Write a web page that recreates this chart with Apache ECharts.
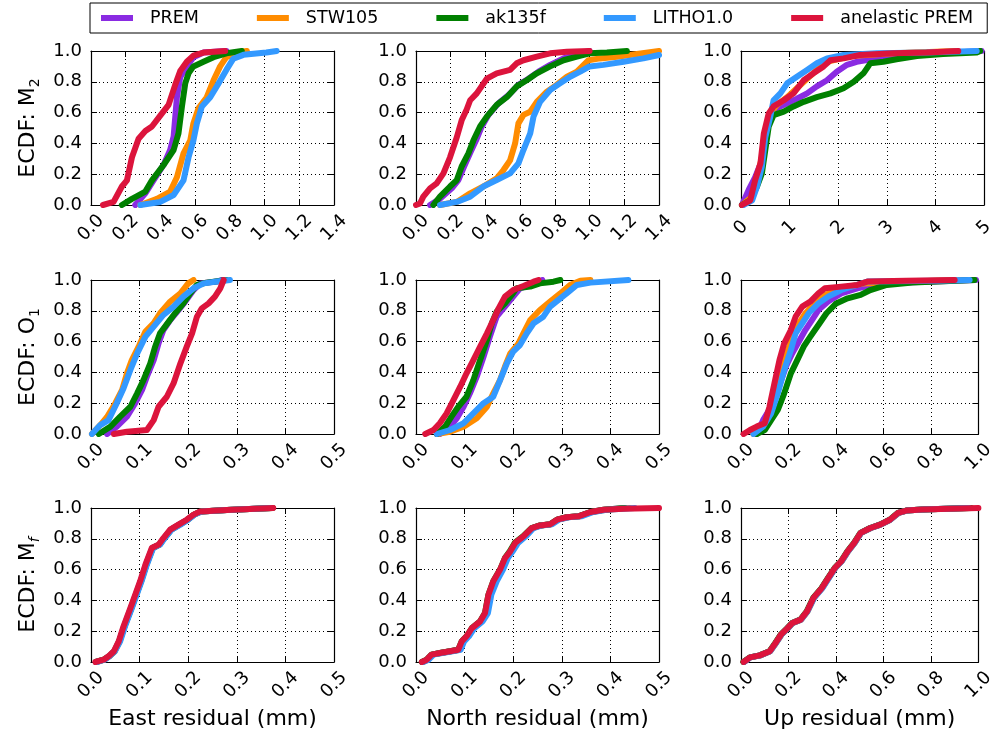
<!DOCTYPE html>
<html><head><meta charset="utf-8">
<script src="https://cdn.jsdelivr.net/npm/echarts/dist/echarts.min.js"></script>
<style>html,body{margin:0;padding:0;background:#fff}#c{width:997px;height:742px}</style>
</head><body><div id="c"></div>
<script>
const seriesNames = ['PREM', 'STW105', 'ak135f', 'LITHO1.0', 'anelastic PREM'];
const seriesColors = ['#8A2BE2', '#FF8C00', '#008000', '#3399FF', '#DC143C'];
const rowTides = [['M', '2', false], ['O', '1', false], ['M', 'f', true]];
const colTitles = ['East residual (mm)', 'North residual (mm)', 'Up residual (mm)'];

const xTicksM2EN = [0, 0.2, 0.4, 0.6, 0.8, 1.0, 1.2, 1.4];
const xLabelsM2EN = ['0.0', '0.2', '0.4', '0.6', '0.8', '1.0', '1.2', '1.4'];
const xTicksM2U = [0, 1, 2, 3, 4, 5];
const xLabelsM2U = ['0', '1', '2', '3', '4', '5'];
const xTicksHalf = [0, 0.1, 0.2, 0.3, 0.4, 0.5];
const xLabelsHalf = ['0.0', '0.1', '0.2', '0.3', '0.4', '0.5'];
const xTicksOne = [0, 0.2, 0.4, 0.6, 0.8, 1.0];
const xLabelsOne = ['0.0', '0.2', '0.4', '0.6', '0.8', '1.0'];
const yTicks = [0, 0.2, 0.4, 0.6, 0.8, 1.0];
const yLabels = ['0.0', '0.2', '0.4', '0.6', '0.8', '1.0'];

// ---- M2 East ----
const m2EastPREM = [[0.255,0],[0.313,0.076],[0.36,0.16],[0.418,0.26],[0.456,0.357],[0.476,0.444],[0.495,0.70],[0.514,0.83],[0.552,0.90],[0.59,0.96],[0.648,0.99],[0.78,1.0]];
const m2EastSTW = [[0.284,0],[0.38,0.04],[0.456,0.087],[0.495,0.18],[0.533,0.335],[0.572,0.42],[0.59,0.53],[0.62,0.63],[0.667,0.70],[0.706,0.81],[0.744,0.90],[0.78,0.96],[0.84,0.99],[0.898,1.0]];
const m2EastAK = [[0.178,0],[0.236,0.04],[0.313,0.087],[0.351,0.16],[0.418,0.26],[0.476,0.357],[0.504,0.465],[0.524,0.64],[0.543,0.79],[0.562,0.855],[0.59,0.9],[0.648,0.93],[0.706,0.96],[0.78,0.985],[0.869,1.0]];
const m2EastLITHO = [[0.284,0],[0.399,0.02],[0.476,0.065],[0.533,0.16],[0.562,0.31],[0.59,0.42],[0.61,0.53],[0.639,0.64],[0.687,0.70],[0.735,0.79],[0.78,0.877],[0.82,0.95],[0.878,0.975],[1.01,0.99],[1.07,1.0]];
const m2EastAnel = [[0.069,0],[0.13,0.02],[0.178,0.12],[0.207,0.16],[0.236,0.31],[0.274,0.43],[0.313,0.48],[0.351,0.51],[0.399,0.58],[0.447,0.65],[0.485,0.78],[0.514,0.87],[0.552,0.93],[0.59,0.97],[0.648,0.99],[0.773,1.0]];

// ---- M2 North ----
const m2NorthPREM = [[0.081,0],[0.138,0.04],[0.206,0.108],[0.244,0.162],[0.277,0.25],[0.315,0.346],[0.346,0.42],[0.379,0.51],[0.417,0.584],[0.475,0.66],[0.533,0.714],[0.59,0.78],[0.648,0.82],[0.706,0.866],[0.773,0.91],[0.85,0.952],[0.927,0.98],[1.0,1.0]];
const m2NorthSTW = [[0.138,0],[0.235,0.02],[0.312,0.076],[0.388,0.12],[0.465,0.173],[0.504,0.227],[0.542,0.29],[0.571,0.4],[0.59,0.53],[0.619,0.585],[0.658,0.606],[0.696,0.67],[0.754,0.736],[0.81,0.78],[0.87,0.833],[0.927,0.866],[0.994,0.94],[1.06,0.952],[1.158,0.963],[1.273,0.98],[1.4,1.0]];
const m2NorthAK = [[0.1,0],[0.138,0.054],[0.196,0.12],[0.235,0.162],[0.263,0.25],[0.302,0.335],[0.331,0.42],[0.369,0.51],[0.408,0.574],[0.465,0.65],[0.523,0.70],[0.58,0.77],[0.638,0.81],[0.696,0.855],[0.773,0.9],[0.85,0.94],[0.927,0.963],[1.0,0.985],[1.1,0.99],[1.215,1.0]];
const m2NorthLITHO = [[0.138,0],[0.235,0.02],[0.312,0.054],[0.388,0.12],[0.465,0.162],[0.542,0.205],[0.59,0.27],[0.619,0.357],[0.658,0.465],[0.677,0.574],[0.715,0.67],[0.773,0.747],[0.83,0.79],[0.888,0.833],[0.946,0.866],[1.0,0.9],[1.08,0.91],[1.196,0.93],[1.31,0.952],[1.4,0.974]];
const m2NorthAnel = [[0,0],[0.023,0.01],[0.042,0.054],[0.081,0.108],[0.119,0.14],[0.158,0.205],[0.196,0.31],[0.235,0.44],[0.263,0.55],[0.292,0.62],[0.312,0.68],[0.35,0.725],[0.408,0.82],[0.465,0.855],[0.542,0.877],[0.58,0.92],[0.619,0.94],[0.696,0.963],[0.773,0.985],[0.869,0.995],[1.0,1.0]];

// ---- M2 Up ----
const m2UpPREM = [[0.02,0],[0.16,0.1],[0.29,0.18],[0.43,0.29],[0.5,0.465],[0.6,0.574],[0.74,0.63],[0.95,0.66],[1.15,0.69],[1.36,0.725],[1.56,0.77],[1.77,0.81],[1.97,0.866],[2.18,0.91],[2.38,0.93],[2.8,0.952],[3.48,0.974],[4.16,0.985],[4.95,1.0]];
const m2UpSTW = [[0.02,0],[0.23,0.054],[0.33,0.18],[0.43,0.31],[0.5,0.465],[0.6,0.595],[0.74,0.65],[0.95,0.70],[1.15,0.758],[1.36,0.82],[1.56,0.877],[1.77,0.93],[2.25,0.967],[3.14,0.985],[4.16,0.997],[4.4,1.0]];
const m2UpAK = [[0.02,0],[0.19,0.03],[0.33,0.12],[0.43,0.205],[0.5,0.357],[0.57,0.51],[0.67,0.584],[0.88,0.606],[1.08,0.64],[1.29,0.67],[1.56,0.70],[1.84,0.725],[2.11,0.758],[2.32,0.8],[2.52,0.855],[2.66,0.92],[2.93,0.93],[3.2,0.946],[3.62,0.967],[4.16,0.98],[4.85,0.99],[4.92,1.0]];
const m2UpLITHO = [[0.05,0],[0.23,0.03],[0.33,0.12],[0.43,0.25],[0.5,0.44],[0.6,0.57],[0.67,0.68],[0.81,0.725],[0.95,0.79],[1.15,0.833],[1.36,0.877],[1.56,0.92],[1.77,0.952],[2.11,0.974],[2.8,0.985],[3.82,0.99],[4.85,1.0]];
const m2UpAnel = [[0.02,0],[0.19,0.03],[0.29,0.16],[0.4,0.27],[0.47,0.465],[0.57,0.595],[0.67,0.64],[0.88,0.68],[1.08,0.725],[1.29,0.81],[1.49,0.855],[1.7,0.9],[1.84,0.94],[2.11,0.952],[2.45,0.974],[3.14,0.985],[3.82,0.99],[4.47,1.0]];

// ---- O1 East ----
const o1EastPREM = [[0.033,0],[0.053,0.048],[0.074,0.113],[0.091,0.2],[0.105,0.286],[0.115,0.372],[0.129,0.48],[0.139,0.589],[0.149,0.675],[0.163,0.74],[0.18,0.805],[0.194,0.86],[0.211,0.935],[0.225,0.978],[0.259,0.99],[0.27,1.0]];
const o1EastSTW = [[0.002,0],[0.019,0.058],[0.033,0.11],[0.05,0.2],[0.064,0.286],[0.074,0.394],[0.084,0.48],[0.098,0.567],[0.112,0.665],[0.129,0.72],[0.142,0.784],[0.163,0.86],[0.184,0.913],[0.2,0.978],[0.211,1.0]];
const o1EastAK = [[0.016,0],[0.04,0.048],[0.06,0.113],[0.081,0.177],[0.095,0.264],[0.108,0.35],[0.122,0.459],[0.132,0.567],[0.142,0.654],[0.16,0.73],[0.173,0.784],[0.19,0.848],[0.204,0.913],[0.218,0.968],[0.238,0.983],[0.279,1.0]];
const o1EastLITHO = [[0.002,0],[0.019,0.058],[0.036,0.09],[0.053,0.2],[0.067,0.297],[0.081,0.416],[0.095,0.524],[0.112,0.632],[0.129,0.697],[0.149,0.773],[0.17,0.827],[0.19,0.892],[0.211,0.946],[0.232,0.978],[0.259,0.99],[0.286,1.0]];
const o1EastAnel = [[0.047,0],[0.074,0.015],[0.115,0.026],[0.129,0.09],[0.139,0.177],[0.156,0.242],[0.17,0.33],[0.184,0.459],[0.197,0.567],[0.208,0.654],[0.218,0.762],[0.228,0.816],[0.242,0.848],[0.255,0.892],[0.266,0.946],[0.273,1.0]];

// ---- O1 North ----
const o1NorthPREM = [[0.049,0],[0.07,0.048],[0.084,0.102],[0.098,0.177],[0.111,0.264],[0.125,0.372],[0.139,0.502],[0.152,0.632],[0.166,0.762],[0.183,0.827],[0.2,0.892],[0.214,0.946],[0.235,0.968],[0.252,0.99],[0.26,1.0]];
const o1NorthSTW = [[0.043,0],[0.07,0.015],[0.098,0.048],[0.125,0.102],[0.146,0.177],[0.159,0.264],[0.173,0.35],[0.183,0.437],[0.194,0.524],[0.211,0.589],[0.221,0.654],[0.235,0.74],[0.255,0.805],[0.276,0.86],[0.297,0.913],[0.317,0.968],[0.338,0.995],[0.359,1.0]];
const o1NorthAK = [[0.043,0],[0.06,0.048],[0.073,0.113],[0.087,0.177],[0.104,0.242],[0.118,0.35],[0.132,0.48],[0.146,0.61],[0.156,0.719],[0.166,0.794],[0.183,0.848],[0.197,0.903],[0.207,0.946],[0.235,0.957],[0.255,0.978],[0.283,0.989],[0.297,1.0]];
const o1NorthLITHO = [[0.043,0],[0.07,0.026],[0.098,0.07],[0.118,0.134],[0.139,0.2],[0.159,0.242],[0.173,0.35],[0.187,0.459],[0.2,0.535],[0.214,0.578],[0.228,0.654],[0.242,0.719],[0.262,0.762],[0.276,0.827],[0.297,0.881],[0.31,0.913],[0.331,0.968],[0.359,0.983],[0.437,1.0]];
const o1NorthAnel = [[0.019,0],[0.036,0.026],[0.049,0.07],[0.063,0.134],[0.077,0.22],[0.091,0.307],[0.104,0.394],[0.118,0.48],[0.132,0.567],[0.146,0.654],[0.159,0.74],[0.17,0.816],[0.183,0.892],[0.2,0.935],[0.221,0.961],[0.242,0.989],[0.252,1.0]];

// ---- O1 Up ----
const o1UpPREM = [[0.066,0],[0.093,0.09],[0.127,0.177],[0.155,0.286],[0.189,0.437],[0.216,0.524],[0.244,0.6],[0.271,0.675],[0.299,0.74],[0.326,0.805],[0.367,0.86],[0.422,0.913],[0.49,0.946],[0.559,0.968],[0.696,0.983],[0.99,1.0]];
const o1UpSTW = [[0.052,0],[0.1,0.07],[0.134,0.2],[0.162,0.35],[0.189,0.502],[0.216,0.632],[0.244,0.719],[0.271,0.784],[0.312,0.848],[0.353,0.903],[0.422,0.946],[0.518,0.978],[0.696,0.989],[0.9,1.0]];
const o1UpAK = [[0.066,0],[0.1,0.026],[0.127,0.09],[0.155,0.156],[0.182,0.264],[0.21,0.394],[0.237,0.48],[0.264,0.567],[0.292,0.632],[0.326,0.708],[0.36,0.784],[0.401,0.848],[0.449,0.881],[0.504,0.903],[0.545,0.935],[0.614,0.968],[0.723,0.983],[0.984,1.0]];
const o1UpLITHO = [[0.052,0],[0.093,0.048],[0.127,0.134],[0.155,0.264],[0.182,0.416],[0.21,0.545],[0.23,0.654],[0.258,0.719],[0.285,0.784],[0.326,0.848],[0.367,0.892],[0.422,0.935],[0.49,0.968],[0.532,0.99],[0.833,0.995],[0.963,1.0]];
const o1UpAnel = [[0.011,0],[0.038,0.026],[0.066,0.048],[0.1,0.07],[0.12,0.177],[0.141,0.33],[0.162,0.48],[0.182,0.589],[0.21,0.675],[0.23,0.762],[0.258,0.827],[0.292,0.86],[0.326,0.913],[0.353,0.946],[0.422,0.957],[0.49,0.968],[0.532,0.99],[0.696,0.995],[0.9,1.0]];

// ---- Mf East ----
const mfEastPREM = [[0.01,0],[0.027,0.015],[0.037,0.037],[0.048,0.07],[0.058,0.134],[0.068,0.232],[0.082,0.35],[0.092,0.437],[0.102,0.524],[0.113,0.632],[0.126,0.74],[0.14,0.762],[0.15,0.805],[0.164,0.86],[0.181,0.892],[0.198,0.924],[0.212,0.957],[0.226,0.978],[0.28,0.987],[0.37,1.0]];
const mfEastSTW = [[0.011,0],[0.027,0.015],[0.038,0.037],[0.049,0.07],[0.059,0.134],[0.069,0.232],[0.083,0.35],[0.093,0.437],[0.103,0.524],[0.114,0.632],[0.127,0.74],[0.141,0.762],[0.151,0.805],[0.165,0.86],[0.182,0.892],[0.199,0.924],[0.212,0.957],[0.227,0.978],[0.28,0.987],[0.372,1.0]];
const mfEastAK = [[0.01,0],[0.026,0.015],[0.037,0.037],[0.048,0.07],[0.058,0.134],[0.069,0.232],[0.083,0.35],[0.093,0.437],[0.103,0.524],[0.114,0.632],[0.127,0.74],[0.141,0.762],[0.151,0.805],[0.165,0.86],[0.182,0.892],[0.199,0.924],[0.212,0.957],[0.226,0.978],[0.279,0.987],[0.374,1.0]];
const mfEastLITHO = [[0.012,0],[0.028,0.015],[0.038,0.037],[0.049,0.07],[0.06,0.134],[0.07,0.232],[0.084,0.35],[0.094,0.437],[0.104,0.524],[0.115,0.632],[0.128,0.74],[0.142,0.762],[0.152,0.805],[0.166,0.86],[0.184,0.892],[0.2,0.924],[0.213,0.957],[0.228,0.978],[0.28,0.987],[0.37,1.0]];
const mfEastAnel = [[0.009,0],[0.026,0.015],[0.036,0.037],[0.047,0.07],[0.057,0.134],[0.067,0.232],[0.081,0.35],[0.091,0.437],[0.101,0.524],[0.112,0.632],[0.125,0.74],[0.139,0.762],[0.149,0.805],[0.163,0.86],[0.18,0.892],[0.197,0.924],[0.211,0.957],[0.225,0.978],[0.279,0.987],[0.375,1.0]];

// ---- Mf North ----
const mfNorthPREM = [[0.013,0],[0.023,0.015],[0.033,0.048],[0.05,0.058],[0.071,0.07],[0.088,0.08],[0.095,0.134],[0.105,0.167],[0.116,0.22],[0.133,0.264],[0.143,0.318],[0.15,0.437],[0.161,0.524],[0.175,0.6],[0.185,0.675],[0.195,0.719],[0.205,0.773],[0.222,0.816],[0.239,0.87],[0.256,0.887],[0.277,0.894],[0.291,0.924],[0.311,0.94],[0.335,0.946],[0.36,0.974],[0.387,0.989],[0.43,1.0]];
const mfNorthSTW = [[0.014,0],[0.024,0.015],[0.034,0.048],[0.051,0.058],[0.072,0.07],[0.09,0.08],[0.097,0.134],[0.107,0.167],[0.118,0.22],[0.135,0.264],[0.145,0.318],[0.152,0.437],[0.163,0.524],[0.177,0.6],[0.187,0.675],[0.197,0.719],[0.207,0.773],[0.224,0.816],[0.24,0.87],[0.257,0.887],[0.278,0.894],[0.292,0.924],[0.312,0.94],[0.337,0.946],[0.362,0.974],[0.39,0.989],[0.44,1.0]];
const mfNorthAK = [[0.012,0],[0.022,0.015],[0.032,0.048],[0.049,0.058],[0.07,0.07],[0.087,0.08],[0.094,0.134],[0.104,0.167],[0.115,0.22],[0.132,0.264],[0.142,0.318],[0.149,0.437],[0.159,0.524],[0.173,0.6],[0.183,0.675],[0.193,0.719],[0.203,0.773],[0.22,0.816],[0.238,0.87],[0.255,0.887],[0.276,0.894],[0.29,0.924],[0.31,0.94],[0.334,0.946],[0.359,0.974],[0.386,0.989],[0.43,1.0]];
const mfNorthLITHO = [[0.015,0],[0.026,0.015],[0.036,0.048],[0.054,0.058],[0.075,0.07],[0.092,0.08],[0.099,0.134],[0.109,0.167],[0.12,0.22],[0.137,0.264],[0.148,0.318],[0.155,0.437],[0.166,0.524],[0.179,0.6],[0.189,0.675],[0.199,0.719],[0.21,0.773],[0.226,0.816],[0.242,0.87],[0.259,0.887],[0.28,0.894],[0.294,0.924],[0.314,0.94],[0.34,0.946],[0.365,0.974],[0.392,0.989],[0.45,1.0]];
const mfNorthAnel = [[0.012,0],[0.022,0.015],[0.032,0.048],[0.049,0.058],[0.07,0.07],[0.087,0.08],[0.094,0.134],[0.104,0.167],[0.115,0.22],[0.132,0.264],[0.142,0.318],[0.149,0.437],[0.159,0.524],[0.173,0.6],[0.183,0.675],[0.194,0.719],[0.204,0.773],[0.221,0.816],[0.238,0.87],[0.255,0.887],[0.276,0.894],[0.29,0.924],[0.31,0.94],[0.334,0.946],[0.359,0.974],[0.386,0.989],[0.427,0.995],[0.5,1.0]];

// ---- Mf Up ----
const mfUpPREM = [[0.012,0],[0.039,0.03],[0.08,0.043],[0.122,0.07],[0.142,0.113],[0.169,0.177],[0.197,0.22],[0.217,0.253],[0.252,0.275],[0.279,0.329],[0.306,0.416],[0.341,0.48],[0.368,0.545],[0.396,0.61],[0.423,0.654],[0.45,0.719],[0.478,0.773],[0.505,0.838],[0.546,0.87],[0.587,0.892],[0.628,0.924],[0.663,0.968],[0.697,0.983],[0.765,0.99],[0.95,1.0]];
const mfUpSTW = [[0.012,0],[0.04,0.03],[0.081,0.043],[0.123,0.07],[0.143,0.113],[0.17,0.177],[0.198,0.22],[0.218,0.253],[0.253,0.275],[0.28,0.329],[0.307,0.416],[0.342,0.48],[0.369,0.545],[0.397,0.61],[0.424,0.654],[0.451,0.719],[0.479,0.773],[0.506,0.838],[0.547,0.87],[0.588,0.892],[0.629,0.924],[0.664,0.968],[0.698,0.983],[0.766,0.99],[0.96,1.0]];
const mfUpAK = [[0.01,0],[0.037,0.03],[0.078,0.043],[0.12,0.07],[0.14,0.113],[0.167,0.177],[0.195,0.22],[0.215,0.253],[0.25,0.275],[0.277,0.329],[0.304,0.416],[0.339,0.48],[0.366,0.545],[0.394,0.61],[0.421,0.654],[0.448,0.719],[0.476,0.773],[0.503,0.838],[0.544,0.87],[0.585,0.892],[0.626,0.924],[0.661,0.968],[0.695,0.983],[0.763,0.99],[0.97,1.0]];
const mfUpLITHO = [[0.013,0],[0.04,0.03],[0.081,0.043],[0.123,0.07],[0.143,0.113],[0.17,0.177],[0.198,0.22],[0.218,0.253],[0.253,0.275],[0.28,0.329],[0.308,0.416],[0.343,0.48],[0.37,0.545],[0.397,0.61],[0.424,0.654],[0.451,0.719],[0.479,0.773],[0.506,0.838],[0.547,0.87],[0.588,0.892],[0.629,0.924],[0.664,0.968],[0.698,0.983],[0.766,0.99],[0.96,1.0]];
const mfUpAnel = [[0.011,0],[0.038,0.03],[0.079,0.043],[0.121,0.07],[0.141,0.113],[0.168,0.177],[0.196,0.22],[0.216,0.253],[0.251,0.275],[0.278,0.329],[0.305,0.416],[0.34,0.48],[0.367,0.545],[0.395,0.61],[0.422,0.654],[0.449,0.719],[0.477,0.773],[0.504,0.838],[0.545,0.87],[0.586,0.892],[0.627,0.924],[0.662,0.968],[0.696,0.983],[0.764,0.99],[1.0,1.0]];

const panels = [
  [[m2EastPREM, m2EastSTW, m2EastAK, m2EastLITHO, m2EastAnel], xTicksM2EN, xLabelsM2EN],
  [[m2NorthPREM, m2NorthSTW, m2NorthAK, m2NorthLITHO, m2NorthAnel], xTicksM2EN, xLabelsM2EN],
  [[m2UpPREM, m2UpSTW, m2UpAK, m2UpLITHO, m2UpAnel], xTicksM2U, xLabelsM2U],
  [[o1EastPREM, o1EastSTW, o1EastAK, o1EastLITHO, o1EastAnel], xTicksHalf, xLabelsHalf],
  [[o1NorthPREM, o1NorthSTW, o1NorthAK, o1NorthLITHO, o1NorthAnel], xTicksHalf, xLabelsHalf],
  [[o1UpPREM, o1UpSTW, o1UpAK, o1UpLITHO, o1UpAnel], xTicksOne, xLabelsOne],
  [[mfEastPREM, mfEastSTW, mfEastAK, mfEastLITHO, mfEastAnel], xTicksHalf, xLabelsHalf],
  [[mfNorthPREM, mfNorthSTW, mfNorthAK, mfNorthLITHO, mfNorthAnel], xTicksHalf, xLabelsHalf],
  [[mfUpPREM, mfUpSTW, mfUpAK, mfUpLITHO, mfUpAnel], xTicksOne, xLabelsOne]
];

const FONT = 'DejaVu Sans';
const gridLefts = [91, 416, 741];
const gridTops = [51, 280, 508];
const GW = 243, GH = 154;

const grids = [], xAxes = [], yAxes = [], series = [];
const dotted = { color: '#000', width: 1, type: [1, 3] };
const tickStyle = { show: true, inside: true, length: 6, lineStyle: { color: '#000', width: 1 } };
const lineAx = { show: true, onZero: false, lineStyle: { color: '#000', width: 1.2 } };

panels.forEach((p, i) => {
  const r = Math.floor(i / 3), c = i % 3;
  const [curves, ticks, labels] = p;
  const xmin = ticks[0], xmax = ticks[ticks.length - 1], xint = ticks[1] - ticks[0];
  grids.push({ left: gridLefts[c], top: gridTops[r], width: GW, height: GH, containLabel: false });
  const xa = {
    type: 'value', gridIndex: i, position: 'bottom', min: xmin, max: xmax, interval: xint,
    axisLine: lineAx, axisTick: tickStyle,
    axisLabel: {
      show: true, rotate: 45, align: 'center', verticalAlign: 'middle', margin: 23,
      fontSize: 18, fontFamily: FONT, color: '#000', showMinLabel: true, showMaxLabel: true,
      formatter: (v) => labels[Math.round((v - xmin) / xint)]
    },
    splitLine: { show: true, lineStyle: dotted }
  };
  if (r === 2) {
    xa.name = colTitles[c];
    xa.nameLocation = 'middle';
    xa.nameGap = 46;
    xa.nameTextStyle = { fontSize: 22, fontFamily: FONT, color: '#000' };
  }
  xAxes.push(xa);
  const ya = {
    type: 'value', gridIndex: i, position: 'left', min: 0, max: 1, interval: 0.2,
    axisLine: lineAx, axisTick: tickStyle,
    axisLabel: {
      show: true, margin: 9, fontSize: 18, fontFamily: FONT, color: '#000',
      showMinLabel: true, showMaxLabel: true,
      formatter: (v) => yLabels[Math.round(v / 0.2)]
    },
    splitLine: { show: true, lineStyle: dotted }
  };
  if (c === 0) {
    const t = rowTides[r];
    ya.name = '{m|ECDF: ' + t[0] + '}{' + (t[2] ? 'si' : 's') + '|' + t[1] + '}';
    ya.nameLocation = 'middle';
    ya.nameGap = 49;
    ya.nameRotate = 90;
    ya.nameTextStyle = {
      fontSize: 22, fontFamily: FONT, color: '#000',
      rich: {
        m: { fontSize: 22, fontFamily: FONT, color: '#000', lineHeight: 28 },
        s: { fontSize: 14, fontFamily: FONT, color: '#000', lineHeight: 14, verticalAlign: 'bottom' },
        si: { fontSize: 14, fontFamily: FONT, fontStyle: 'italic', color: '#000', lineHeight: 14, verticalAlign: 'bottom' }
      }
    };
  }
  yAxes.push(ya);
  curves.forEach((d, k) => {
    series.push({
      name: seriesNames[k], type: 'line', xAxisIndex: i, yAxisIndex: i, data: d,
      symbol: 'none', showSymbol: false, smooth: false, z: 2 + k,
      lineStyle: { width: 6, color: seriesColors[k], cap: 'round', join: 'round' },
      itemStyle: { color: seriesColors[k] },
      emphasis: { disabled: true }
    });
  });
});
// top and right frame axes with inward ticks
panels.forEach((p, i) => {
  const ticks = p[1];
  const xmin = ticks[0], xmax = ticks[ticks.length - 1], xint = ticks[1] - ticks[0];
  xAxes.push({
    type: 'value', gridIndex: i, position: 'top', min: xmin, max: xmax, interval: xint,
    axisLine: lineAx, axisTick: tickStyle, axisLabel: { show: false }, splitLine: { show: false }
  });
  yAxes.push({
    type: 'value', gridIndex: i, position: 'right', min: 0, max: 1, interval: 0.2,
    axisLine: lineAx, axisTick: tickStyle, axisLabel: { show: false }, splitLine: { show: false }
  });
});

const chart = echarts.init(document.getElementById('c'), null, { renderer: 'canvas' });
chart.setOption({
  backgroundColor: '#fff',
  animation: false,
  legend: {
    data: seriesNames, left: 90, top: 3, icon: 'rect', itemWidth: 32, itemHeight: 6, itemGap: 58,
    padding: [6, 14, 6, 11], borderColor: '#000', borderWidth: 1, borderRadius: 0,
    selectedMode: false,
    textStyle: { fontSize: 17.5, fontFamily: FONT, color: '#000', padding: [0, 0, 0, 12] }
  },
  grid: grids, xAxis: xAxes, yAxis: yAxes, series: series
});
</script></body></html>
